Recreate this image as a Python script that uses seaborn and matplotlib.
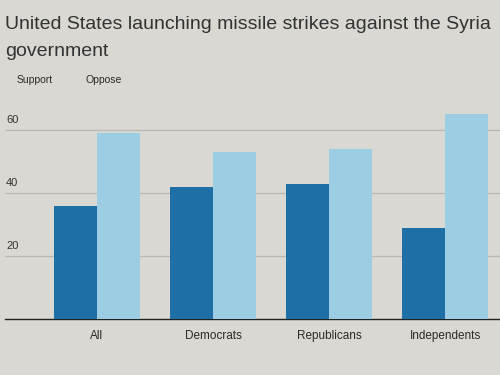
import matplotlib
matplotlib.use("Agg")
import matplotlib.pyplot as plt
import seaborn as sns
import pandas as pd

groups = ["All", "Democrats", "Republicans", "Independents"]
support = [36, 42, 43, 29]
oppose = [59, 53, 54, 65]
yticks = [20, 40, 60]

df = pd.DataFrame({
    "group": groups * 2,
    "response": ["Support"] * 4 + ["Oppose"] * 4,
    "value": support + oppose,
})

sns.set_style("white")
plt.rcParams["font.family"] = ["Liberation Sans", "DejaVu Sans"]
bg = "#d9d8d3"
fig = plt.figure(figsize=(5, 3.75), dpi=100, facecolor=bg)
ax = fig.add_axes([0.01, 0.149, 0.99, 0.588], facecolor=bg)

sns.barplot(data=df, x="group", y="value", hue="response",
            palette={"Support": "#1d6fa6", "Oppose": "#9ccde3"},
            width=0.74, saturation=1, ax=ax, legend=False, zorder=3,
            linewidth=0, edgecolor="none")

ax.set_xlim(-0.79, 3.47)
ax.set_ylim(0, 70)
ax.set_yticks([])
for t in yticks:
    ax.axhline(t, color="#b9b8b3", lw=0.9, zorder=1)
    ax.text(-0.78, t + 1.6, str(t), fontsize=8, color="#333333", ha="left", va="bottom")
for s in ["top", "right", "left"]:
    ax.spines[s].set_visible(False)
ax.spines["bottom"].set_color("#222222")
ax.spines["bottom"].set_linewidth(1.0)
ax.tick_params(axis="x", length=0, pad=8, labelsize=8.5, colors="#2a2a2a")
ax.set_xlabel("")
ax.set_ylabel("")

fig.text(0.01, 0.922, "United States launching missile strikes against the Syria",
         fontsize=14.0, color="#333333", ha="left", va="baseline")
fig.text(0.01, 0.852, "government", fontsize=14.0, color="#333333", ha="left", va="baseline")
fig.text(0.034, 0.778, "Support", fontsize=7.5, color="#2a2a2a", ha="left", va="baseline")
fig.text(0.17, 0.778, "Oppose", fontsize=7.5, color="#2a2a2a", ha="left", va="baseline")

fig.savefig("out.png", dpi=100, facecolor=bg)
